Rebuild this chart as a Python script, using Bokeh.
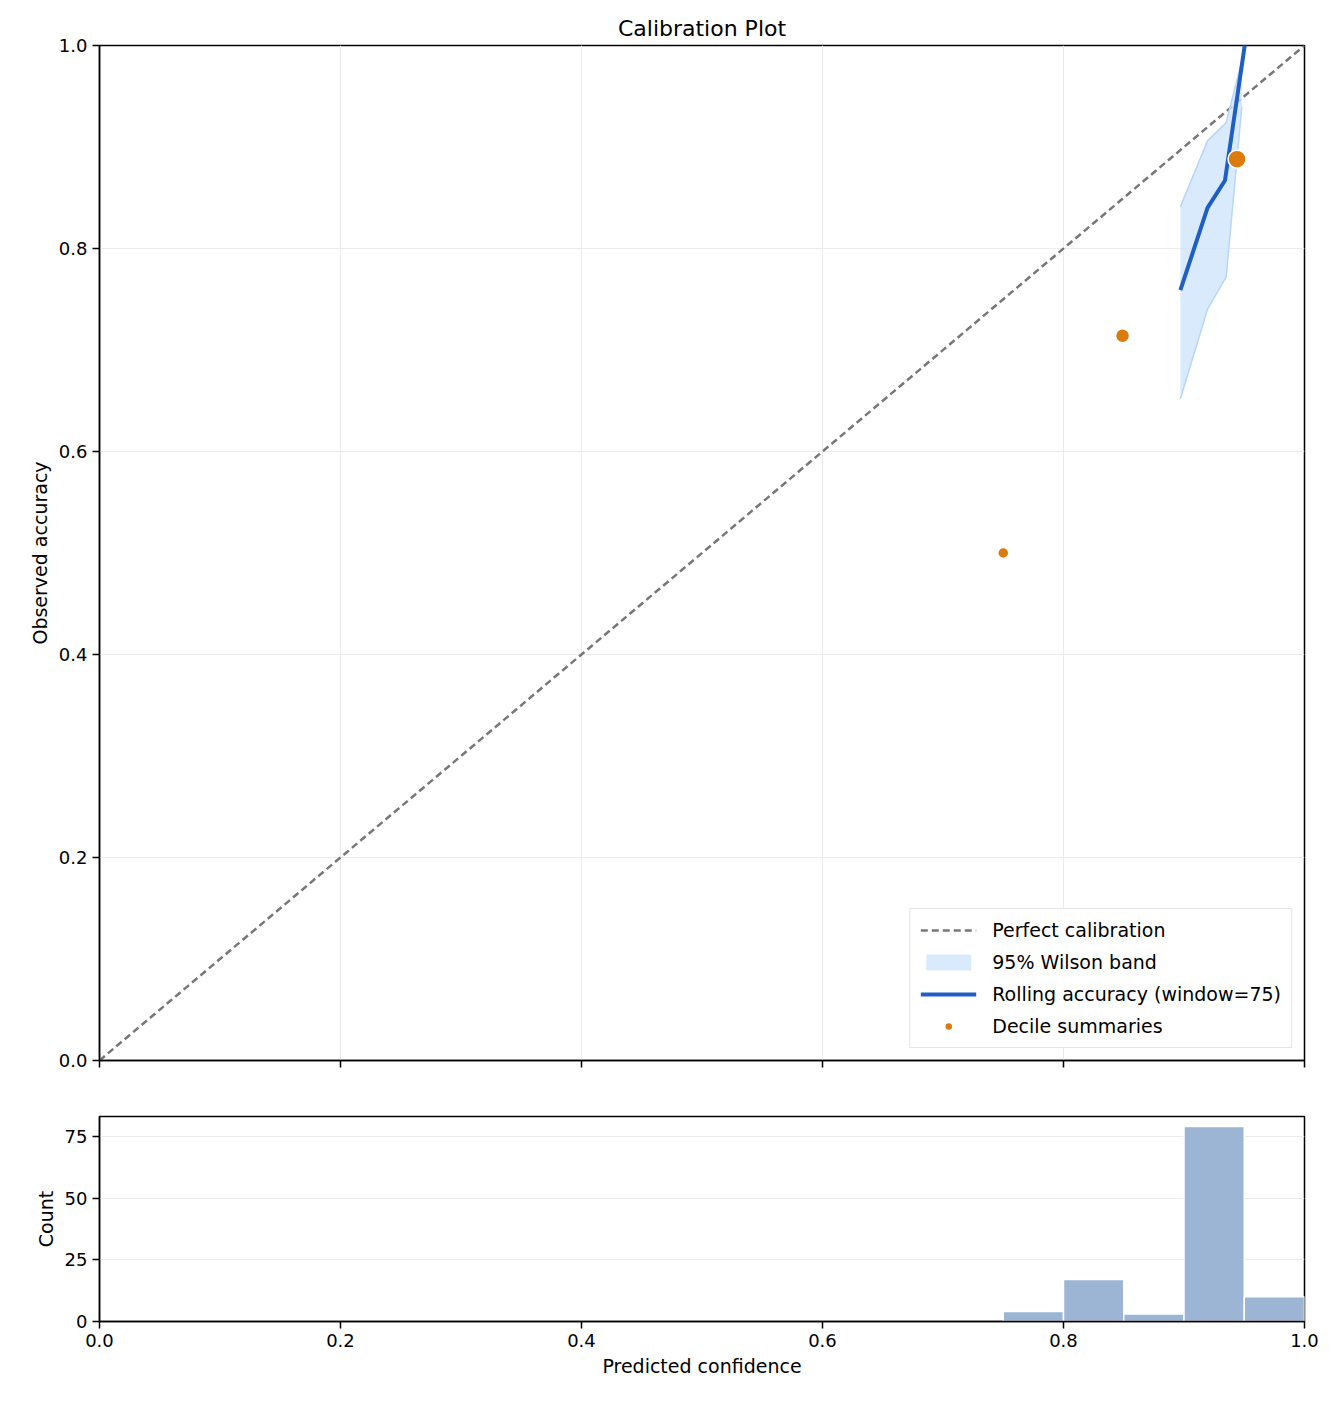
from bokeh.plotting import figure
from bokeh.layouts import column
from bokeh.models import (ColumnDataSource, FixedTicker, Range1d, Legend, LegendItem,
                          NumeralTickFormatter, CustomJSTickFormatter)
from bokeh.embed import file_html
from bokeh.resources import INLINE

roll_x = [0.897, 0.9195, 0.934, 0.951]
roll_y = [0.759, 0.840, 0.867, 1.005]
band_x = [0.897, 0.9195, 0.935, 0.948]
band_lo = [0.652, 0.740, 0.772, 0.94]
band_hi = [0.841, 0.906, 0.924, 0.985]
dec_x = [0.750, 0.849, 0.944]
dec_y = [0.500, 0.714, 0.888]
dec_size = [11, 14, 18]
bin_left = [0.75, 0.80, 0.85, 0.90, 0.95]
bin_count = [4, 17, 3, 79, 10]

F = "DejaVu Sans"
def style(p):
    p.outline_line_color = "black"; p.outline_line_width = 1.5
    for ax in (p.xaxis, p.yaxis):
        ax.axis_line_width = 1.5
        ax.major_tick_line_width = 1.5
        ax.major_tick_out = 7; ax.major_tick_in = 0
        ax.minor_tick_line_color = None
        ax.major_label_text_font = F
        ax.major_label_text_font_size = "18px"
        ax.major_label_text_color = "black"
        ax.axis_label_text_font = F
        ax.axis_label_text_font_size = "19px"
        ax.axis_label_text_font_style = "normal"
        ax.axis_label_text_color = "black"
    p.grid.grid_line_color = "#ebebeb"

xr = Range1d(0, 1)
p = figure(width=1328, height=1088, x_range=xr, y_range=Range1d(0, 1),
           output_backend="svg", toolbar_location=None,
           min_border_left=99, min_border_right=24, min_border_top=45, min_border_bottom=28)
p.title.text = "Calibration Plot"; p.title.align = "center"
p.title.text_font = F; p.title.text_font_size = "22px"; p.title.text_font_style = "normal"
p.title.text_color = "black"
style(p)
p.xaxis.ticker = FixedTicker(ticks=[0, .2, .4, .6, .8, 1])
p.yaxis.ticker = FixedTicker(ticks=[0, .2, .4, .6, .8, 1])
p.yaxis.formatter = NumeralTickFormatter(format="0.0")
p.xaxis.formatter = CustomJSTickFormatter(code="return ''")
p.yaxis.axis_label = "Observed accuracy"

r1 = p.line([0, 1], [0, 1], line_dash="7 4", line_color="#777777", line_width=2.5)
r2 = p.varea(x=band_x, y1=band_lo, y2=band_hi, fill_color="#cce3fc", fill_alpha=0.75)
p.line(band_x, band_lo, line_color="#b8d6fa", line_width=1.5)
p.line(band_x, band_hi, line_color="#b8d6fa", line_width=1.5)
r3 = p.line(roll_x, roll_y, line_color="#1f5fc4", line_width=4)
r4 = p.scatter(x="x", y="y", size="s", source=ColumnDataSource(dict(x=dec_x, y=dec_y, s=dec_size)),
               fill_color="#dc7a0c", line_color="white", line_width=1.5)
leg = Legend(items=[LegendItem(label="Perfect calibration", renderers=[r1]),
                    LegendItem(label="95% Wilson band", renderers=[r2]),
                    LegendItem(label="Rolling accuracy (window=75)", renderers=[r3]),
                    LegendItem(label="Decile summaries", renderers=[r4])],
             location="bottom_right", label_text_font=F, label_text_font_size="19px",
             label_text_color="black",
             border_line_color="#cccccc", border_line_width=1, glyph_width=56, spacing=10,
             margin=12, padding=10, label_standoff=16)
p.add_layout(leg)

h = figure(width=1328, height=310, x_range=xr, y_range=Range1d(0, 83),
           output_backend="svg", toolbar_location=None,
           min_border_left=99, min_border_right=24, min_border_top=28, min_border_bottom=77)
style(h)
h.xaxis.ticker = FixedTicker(ticks=[0, .2, .4, .6, .8, 1])
h.xaxis.formatter = NumeralTickFormatter(format="0.0")
h.yaxis.ticker = FixedTicker(ticks=[0, 25, 50, 75])
h.xaxis.axis_label = "Predicted confidence"
h.yaxis.axis_label = "Count"
h.xgrid.grid_line_color = None
h.quad(left=bin_left, right=[b + 0.05 for b in bin_left], bottom=0, top=bin_count,
       fill_color="#9db5d5", line_color="white", line_width=1.5)

open("out.html", "w").write(file_html(column(p, h, spacing=0), INLINE))
